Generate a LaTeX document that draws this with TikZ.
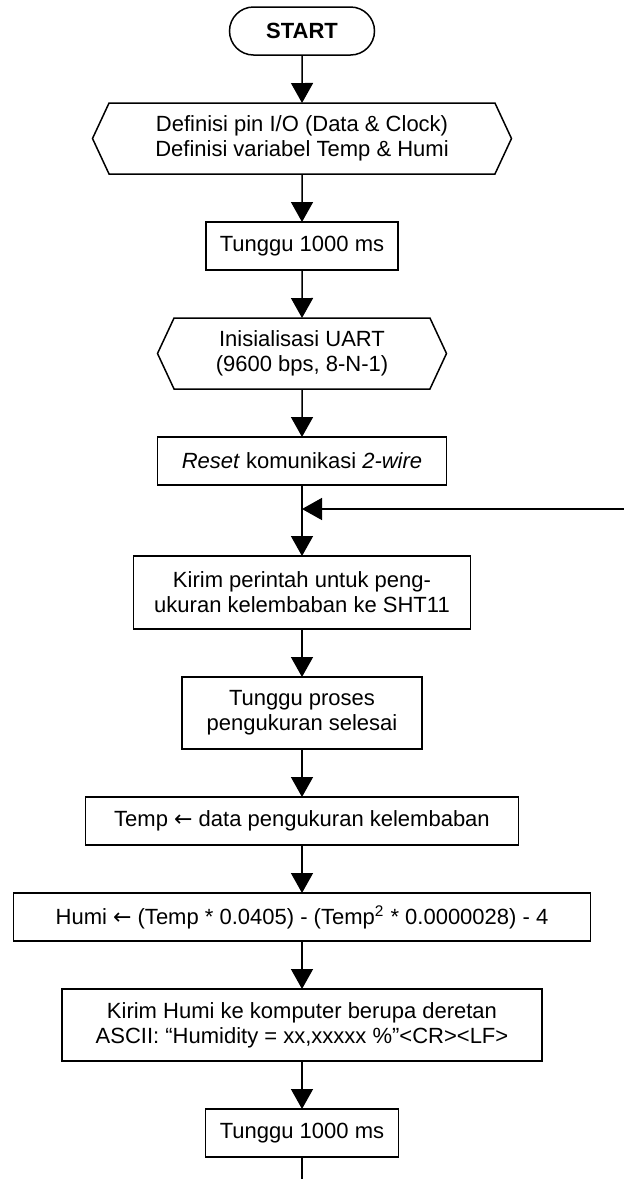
\documentclass[tikz,border=0pt]{standalone}
\usepackage{fontspec}
\setmainfont{Liberation Sans}
\newfontfamily\arrowfont{DejaVu Sans}
\usepackage{tikz}
\usetikzlibrary{shapes.symbols, arrows.meta, positioning, calc}

\newcommand{\getsarrow}{{\arrowfont ←}}

\begin{document}
\begin{tikzpicture}[
        node distance=24pt,
        line width=0.75pt,
        every node/.style={font=\fontsize{11}{12.5}\selectfont, outer sep=0pt},
        process/.style={rectangle, draw, minimum height=24pt, align=center, inner sep=3pt},
        prep/.style={signal, signal to=west and east, signal pointer angle=130, draw, minimum height=35.5pt, align=center, inner sep=3pt},
        terminal/.style={rectangle, rounded corners=12pt, draw, minimum height=24pt, minimum width=72.5pt, font=\fontsize{11}{12.5}\selectfont\bfseries},
        flow/.style={draw, -{Triangle[length=10pt, width=11pt]}}
    ]

    \useasboundingbox (0,0) rectangle (312pt,-590pt);

    % Nodes
    \node[terminal] (start) at (151pt,-15.5pt) {START};
    \node[prep, minimum width=209.5pt, below=of start] (def) {Definisi pin I/O (Data \& Clock)\\Definisi variabel Temp \& Humi};
    \node[process, minimum width=96pt, below=of def] (wait1) {Tunggu 1000 ms};
    \node[prep, minimum width=144.5pt, below=of wait1] (uart) {Inisialisasi UART\\(9600 bps, 8-N-1)};
    \node[process, minimum width=144.5pt, below=of uart] (reset) {\textit{Reset} komunikasi \textit{2-wire}};
    \node[process, minimum width=168.5pt, minimum height=36.5pt, below=35.5pt of reset] (cmd) {Kirim perintah untuk peng-\\ukuran kelembaban ke SHT11};
    \node[process, minimum width=120pt, minimum height=36pt, below=of cmd] (meas) {Tunggu proses\\pengukuran selesai};
    \node[process, minimum width=216.5pt, below=of meas] (temp) {Temp \getsarrow{} data pengukuran kelembaban};
    \node[process, minimum width=288.5pt, below=of temp] (humi) {Humi \getsarrow{} (Temp * 0.0405) - (Temp\textsuperscript{2} * 0.0000028) - 4};
    \node[process, minimum width=240pt, minimum height=36pt, below=of humi] (send) {Kirim Humi ke komputer berupa deretan\\ASCII: “Humidity = xx,xxxxx \%”<CR><LF>};
    \node[process, minimum width=96.5pt, below=of send] (wait2) {Tunggu 1000 ms};

    % Arrows
    \foreach \a/\b in {start/def, def/wait1, wait1/uart, uart/reset, reset/cmd, cmd/meas, meas/temp, temp/humi, humi/send, send/wait2} {
        \draw[flow] (\a) -- (\b);
    }

    % Loop back
    \path (reset.south) ++(0,-12pt) coordinate (join);
    \path (join) ++(161pt,0) coordinate (back);
    \draw[flow] (back) -- (join);

    \path (wait2.south) ++(0,-11pt) coordinate (out);
    \draw (wait2) -- (out);

\end{tikzpicture}
\end{document}
